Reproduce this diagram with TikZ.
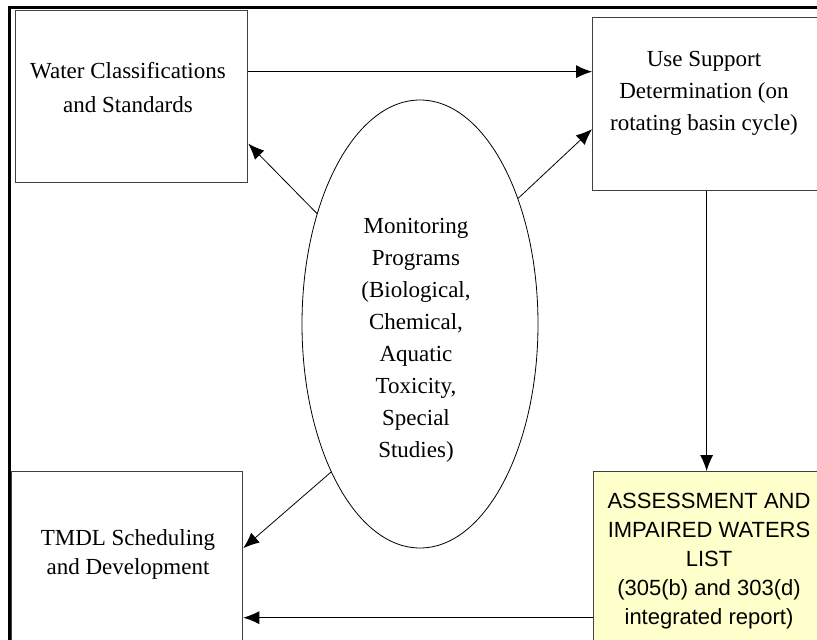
\documentclass[tikz,border=0pt]{standalone}
\usepackage{fontspec}
\setmainfont{Liberation Serif}
\newfontfamily\reportfont{Liberation Sans}
\usetikzlibrary{shapes,arrows.meta}
\tikzset{plain box/.style={
    draw=black!75, line width=1.3pt, rectangle,
    anchor=north west, inner sep=0pt
  },
  report box/.style={
    plain box, fill={rgb,255:red,255;green,255;blue,204}
  },
  box text/.style={
    align=center, font=\fontsize{23}{32}\selectfont
  },
  report text/.style={
    align=center, font=\reportfont\fontsize{22}{29}\selectfont
  },
  flow/.style={
    line width=0.8pt, -{Latex[length=16pt,width=13pt]}
  }
}

\begin{document}
\begin{tikzpicture}[x=1pt,y=-1pt]
      \clip (0,0) rectangle (817,640);
      \fill[white] (0,0) rectangle (817,640);
      \draw[line width=3pt] (9,660) -- (9,7.5) -- (840,7.5);
      % boxes
      \node[plain box, minimum width=228pt, minimum height=173pt] (usesup) at (592,17) {};
      \node[plain box, minimum width=232pt, minimum height=172pt] (classes) at (15,10) {};
      \node[report box, minimum width=232pt, minimum height=178pt] (assess) at (593,471) {};
      \node[plain box, minimum width=231pt, minimum height=189pt] (tmdl) at (11,471) {};
      \node[ellipse, draw, line width=0.8pt, inner sep=0pt,
        minimum width=236pt, minimum height=448pt] (mon) at (420,324) {};
      % texts
      \node[box text, font=\fontsize{23}{34}\selectfont] (classes txt) at (128,88) {Water Classifications\\and Standards};
      \node[box text] (usesup txt) at (704,93) {Use Support\\Determination (on\\rotating basin cycle)};
      \node[box text] (mon txt) at (416,340) {Monitoring\\Programs\\(Biological,\\Chemical,\\Aquatic\\Toxicity,\\Special\\Studies)};
      \node[box text, font=\fontsize{23}{29}\selectfont] (tmdl txt) at (128,554) {TMDL Scheduling\\and Development};
      \node[report text] (assess txt) at (709,561) {ASSESSMENT AND\\IMPAIRED WATERS\\LIST\\(305(b) and 303(d)\\integrated report)};
      % arrows
      \draw[flow] ([yshift=25pt]classes.east) coordinate (a1) -- (a1 -| usesup.west);
      \draw[flow] (mon.133) -- ([yshift=-47pt]classes.east);
      \draw[flow] (mon.52) -- ([yshift=-25pt]usesup.west);
      \draw[flow] (usesup.south) -- (usesup.south |- assess.north);
      \draw[flow] (mon.239) -- ([yshift=18pt]tmdl.east);
      \draw[flow] ([yshift=-57pt]assess.west) coordinate (a2) -- (a2 -| tmdl.east);
    \end{tikzpicture}
\end{document}
